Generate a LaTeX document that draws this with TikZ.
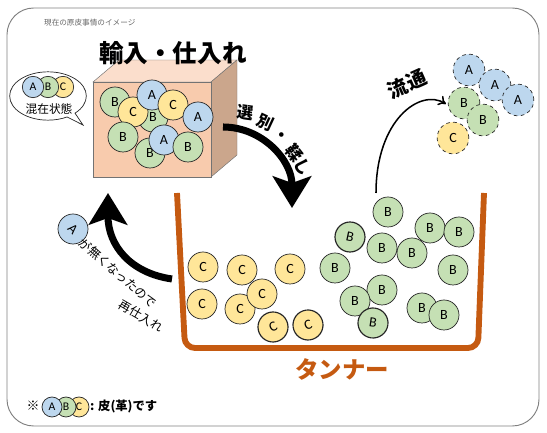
\documentclass[tikz,border=0pt]{standalone}
\usepackage{fontspec}
\setmainfont{Carlito}
\newfontfamily\jpfont{Noto Sans CJK JP}
\usetikzlibrary{arrows.meta, shapes.callouts}

\definecolor{colA}{RGB}{189,215,238}
\definecolor{colB}{RGB}{197,224,180}
\definecolor{colC}{RGB}{255,230,153}
\definecolor{tanbrown}{RGB}{197,90,17}
\definecolor{boxfront}{RGB}{248,203,173}
\definecolor{boxtop}{RGB}{251,222,204}
\definecolor{boxside}{RGB}{203,166,140}

\begin{document}
\begin{tikzpicture}[x=0.03cm, y=-0.03cm,
			leather/.style={circle, draw=black!85, line width=0.6pt, fill=col#1,
				minimum size=0.9cm, inner sep=0pt, font=\fontsize{12}{12}\selectfont},
			stray/.style={leather=#1, dashed, minimum size=0.95cm},
			tiny/.style={leather=#1, minimum size=0.64cm, font=\fontsize{10}{10}\selectfont},
			bigarrow/.style={line width=6pt, -{Stealth[length=0.95cm, width=1.15cm, inset=0.2cm]}},
			jp/.style={font=\jpfont\fontsize{#1}{#1}\selectfont},
			jpbold/.style={font=\jpfont\bfseries\fontsize{#1}{#1}\selectfont}]
			
			\useasboundingbox (0,0) rectangle (547,433);
			
			% frame and caption
			\draw[black!50, line width=0.8pt, rounded corners=0.8cm] (7,8) rectangle (539,426);
			\node[jp=6.5, text=black!60, anchor=west] (caption) at (40,23) {現在の原皮事情のイメージ};
			
			% box of imported hides
			\filldraw[fill=boxtop, draw=black!55] (93,82) -- (119,60) -- (237,60) -- (211,82) -- cycle;
			\filldraw[fill=boxside, draw=black!55] (211,82) -- (237,60) -- (237,155) -- (211,177) -- cycle;
			\filldraw[fill=boxfront, draw=black!55] (93,82) rectangle (211,177);
			\node[jpbold=21] (import) at (173,53) {輸入・仕入れ};
			\foreach \n/\k/\x/\y in {1/B/115/102, 2/B/153/117, 3/C/133/112, 4/A/152/95, 5/C/173/105,
				6/A/198/117, 7/B/123/137, 8/B/150/153, 9/A/164/140, 10/B/188/147}
				\node[leather=\k] (box\n) at (\x,\y) {\k};
			
			% mixed state bubble
			\node[ellipse callout, draw=black!85, line width=0.6pt, fill=white, minimum width=2.3cm,
				minimum height=1.45cm, callout absolute pointer={(83,125)}] (bubble) at (48,96) {};
			\node[tiny=C] (mixC) at (63,87) {C};
			\node[tiny=B] (mixB) at (48,87) {B};
			\node[tiny=A] (mixA) at (33,87) {A};
			\node[jp=10] (mixed) at (49,109) {混在状態};
			
			% sorting and tanning
			\coordinate (sortstart) at (223,127);
			\coordinate (sortend) at (292,208);
			\draw[bigarrow] (sortstart) .. controls (262,127) and (292,160) .. (sortend);
			\foreach \n/\ch/\x/\y/\a in {1/選/245/113/-8, 2/別/265/122/-25, 3/・/281/137/-40,
				4/鞣/294/153/-52, 5/し/303/167/-62}
				\node[jpbold=14, rotate=\a, inner sep=0pt] (sort\n) at (\x,\y) {\ch};
			
			% tanner
			\draw[tanbrown, line width=5pt, rounded corners=0.3cm] (177,193) -- (185,348) -- (478,348) -- (484,193);
			\node[jpbold=20, text=tanbrown] (tanner) at (342,369) {タンナー};
			
			\foreach \n/\x/\y/\a/\w in {1/203/267/0/0.6, 2/242/270/0/0.6, 3/290/269/0/0.6, 4/202/304/0/0.6,
				5/240/309/0/0.6, 6/262/294/0/0.6, 7/273/327/25/1, 8/308/325/20/1}
				\node[leather=C, line width=\w pt, rotate=\a] (tc\n) at (\x,\y) {C};
			\foreach \n/\x/\y/\a/\w in {1/388/212/0/0.6, 2/350/237/-12/1, 3/382/248/0/0.6, 4/412/253/0/0.6,
				5/430/228/0/0.6, 6/459/232/0/0.6, 7/335/268/0/0.6, 8/453/270/0/0.6, 9/382/290/0/0.6,
				10/355/301/0/0.6, 11/373/323/-8/1, 12/422/308/0/0.6, 13/444/315/0/0.6}
				\node[leather=B, line width=\w pt, rotate=\a] (tb\n) at (\x,\y) {B};
			
			% distribution
			\coordinate (flowstart) at (376,193);
			\coordinate (flowend) at (446,104);
			\draw[line width=1.3pt, -{To[length=2.2mm, width=3.2mm]}] (flowstart) .. controls (376,120) and (420,88) .. (flowend);
			\node[jpbold=17, rotate=24] (flow) at (407,84) {流通};
			\foreach \n/\k/\x/\y in {1/A/469/70, 2/A/495/85, 3/A/518/100, 4/B/464/103, 5/B/483/120, 6/C/453/138}
				\node[stray=\k] (out\n) at (\x,\y) {\k};
			
			% re-import
			\coordinate (backstart) at (172,279);
			\coordinate (backend) at (108,193);
			\draw[bigarrow] (backstart) .. controls (130,273) and (108,245) .. (backend);
			\node[leather=A, rotate=-45] (lostA) at (73,229) {A};
			\node[jp=10.5, rotate=-41, inner sep=0pt] (lostline) at (118,273) {が無くなったので};
			\node[jp=10.5, rotate=-30, inner sep=0pt] (rebuy) at (141,316) {再仕入れ};
			
			% legend
			\node[jpbold=11] (note) at (33,406) {※};
			\node[tiny=C, minimum size=0.6cm] (keyC) at (79,407) {C};
			\node[tiny=B, minimum size=0.6cm] (keyB) at (66,407) {B};
			\node[tiny=A, minimum size=0.6cm] (keyA) at (52,407) {A};
			\node[jpbold=10.5, anchor=west] (keytext) at (86,406) {: 皮(革)です};
		\end{tikzpicture}
\end{document}
